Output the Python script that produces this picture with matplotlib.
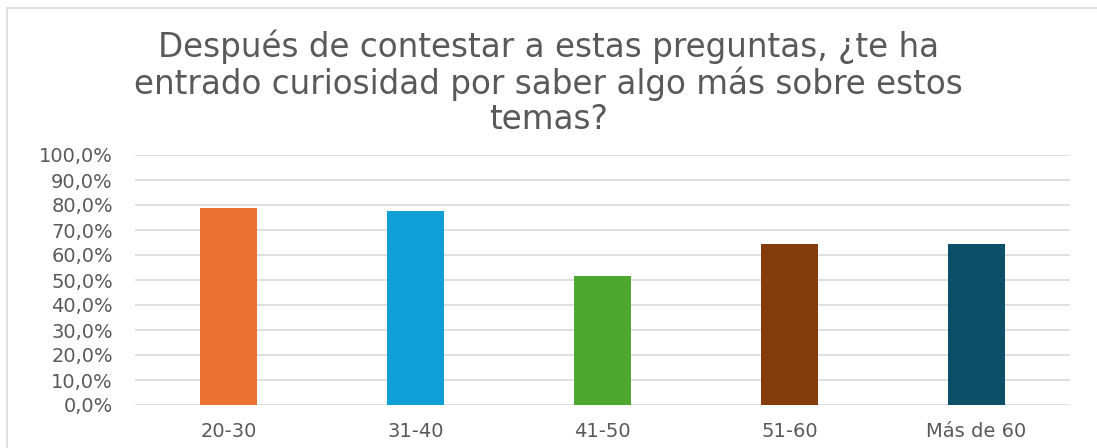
import matplotlib
matplotlib.use('Agg')
import matplotlib.pyplot as plt
import matplotlib.ticker as mticker
from matplotlib.patches import Rectangle

TITLE = 'Después de contestar a estas preguntas, ¿te ha\nentrado curiosidad por saber algo más sobre estos\ntemas?'
CATEGORIES = ['20-30', '31-40', '41-50', '51-60', 'Más de 60']
VALUES = [78.7, 77.7, 51.7, 64.4, 64.3]
COLORS = ['#E97132', '#0F9ED5', '#4EA72E', '#843C0C', '#0B5068']

TEXT_GRAY = '#595959'

fig = plt.figure(figsize=(10.97, 4.48), dpi=100)
ax = fig.add_axes([135 / 1097, 1 - 405 / 448, (1070 - 135) / 1097, 250 / 448])

x = range(len(CATEGORIES))
ax.bar(x, VALUES, width=0.31, color=COLORS, zorder=3)

ax.set_xlim(-0.5, len(CATEGORIES) - 0.5)
ax.set_ylim(0, 100)
ax.set_yticks(range(0, 101, 10))
ax.yaxis.set_major_formatter(mticker.FuncFormatter(lambda v, pos: f'{v:.1f}%'.replace('.', ',')))
ax.set_xticks(list(x))
ax.set_xticklabels(CATEGORIES)

ax.grid(axis='y', color='#D9D9D9', linewidth=1.2, zorder=0)
for s in ax.spines.values():
    s.set_visible(False)
ax.tick_params(axis='both', length=0, labelcolor=TEXT_GRAY)
for lbl in ax.get_xticklabels() + ax.get_yticklabels():
    lbl.set_family('DejaVu Sans')
    lbl.set_fontsize(14)
ax.tick_params(axis='y', pad=16)
ax.tick_params(axis='x', pad=12)

fig.text(0.5, 1 - 83 / 448, TITLE, ha='center', va='center', fontsize=23.5,
         color=TEXT_GRAY, linespacing=1.08, family='DejaVu Sans')

# chart frame
fig.patches.append(Rectangle((7 / 1097, -0.1), 1.2, 1 - 8 / 448 + 0.1,
                             transform=fig.transFigure, fill=False,
                             edgecolor='#D9D9D9', linewidth=1.2))

fig.savefig('out.png', dpi=100)
